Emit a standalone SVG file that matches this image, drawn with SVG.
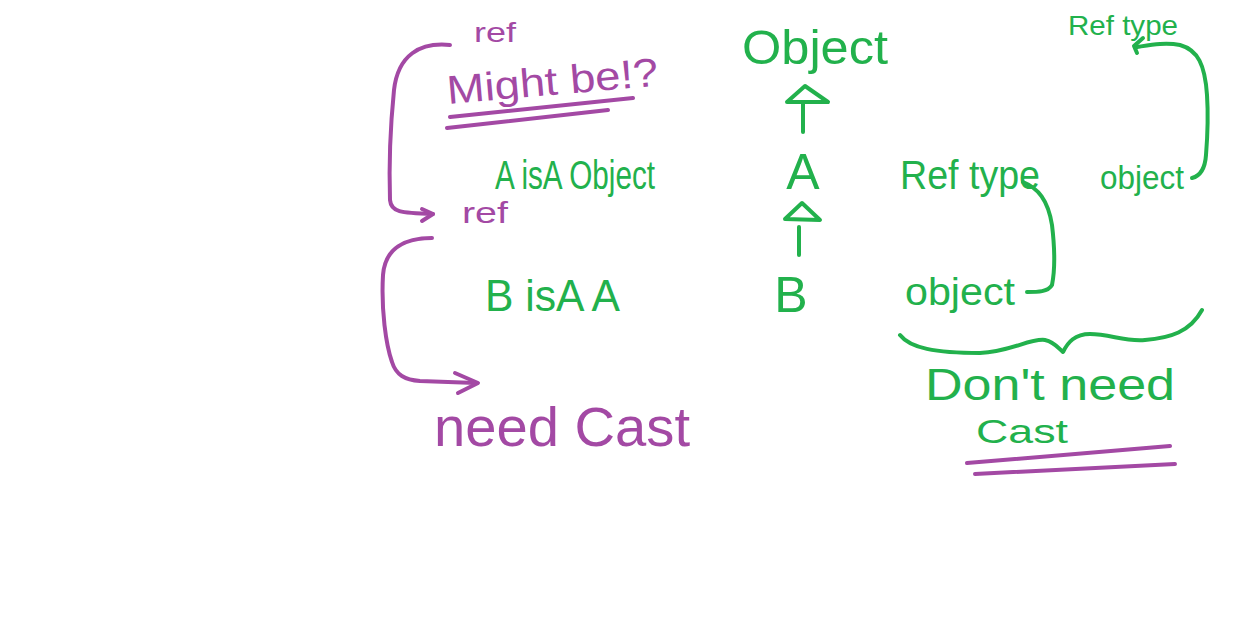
<svg xmlns="http://www.w3.org/2000/svg" width="1246" height="621" viewBox="0 0 1246 621">
<style>
.g{fill:#22b14c;font-family:"Liberation Sans","Noto Sans",sans-serif}
.p{fill:#a349a4;font-family:"Liberation Sans","Noto Sans",sans-serif}
.sg{fill:none;stroke:#22b14c;stroke-width:4;stroke-linecap:round;stroke-linejoin:round}
.sp{fill:none;stroke:#a349a4;stroke-width:4;stroke-linecap:round;stroke-linejoin:round}
</style>
<rect width="1246" height="621" fill="#ffffff"/>
<g id="ref-top"><text class="p" x="474" y="42" font-size="28" textLength="42" lengthAdjust="spacingAndGlyphs">ref</text></g>
<g id="might-be">
<text class="p" x="448" y="104" font-size="40" textLength="212" lengthAdjust="spacingAndGlyphs" transform="rotate(-5 448 104)">Might be!?</text>
</g>
<g id="a-isa-object"><text class="g" x="495" y="189" font-size="40" textLength="160" lengthAdjust="spacingAndGlyphs">A isA Object</text></g>
<g id="ref-mid"><text class="p" x="462" y="223" font-size="30" textLength="46" lengthAdjust="spacingAndGlyphs">ref</text></g>
<g id="b-isa-a"><text class="g" x="485" y="311" font-size="44" textLength="135" lengthAdjust="spacingAndGlyphs">B isA A</text></g>
<g id="need-cast"><text class="p" x="434" y="446" font-size="56" textLength="256" lengthAdjust="spacingAndGlyphs">need Cast</text></g>
<g id="object"><text class="g" x="742" y="64" font-size="48" textLength="146" lengthAdjust="spacingAndGlyphs">Object</text></g>
<g id="a"><text class="g" x="803" y="189" font-size="50" text-anchor="middle">A</text></g>
<g id="b"><text class="g" x="791" y="312" font-size="50" text-anchor="middle">B</text></g>
<g id="reftype-mid"><text class="g" x="900" y="189" font-size="40" textLength="140" lengthAdjust="spacingAndGlyphs">Ref type</text></g>
<g id="object-right"><text class="g" x="1100" y="189" font-size="34" textLength="84" lengthAdjust="spacingAndGlyphs">object</text></g>
<g id="reftype-top"><text class="g" x="1068" y="35" font-size="28" textLength="110" lengthAdjust="spacingAndGlyphs">Ref type</text></g>
<g id="object-low"><text class="g" x="905" y="305" font-size="38" textLength="110" lengthAdjust="spacingAndGlyphs">object</text></g>
<g id="dont-need"><text class="g" x="925" y="400" font-size="44" textLength="250" lengthAdjust="spacingAndGlyphs">Don't need</text></g>
<g id="cast"><text class="g" x="976" y="443" font-size="34" textLength="92" lengthAdjust="spacingAndGlyphs">Cast</text></g>
<g id="connectors">
<path class="sp" d="M450 117 L633 98"/>
<path class="sp" d="M447 128 L608 110"/>
<path class="sp" d="M450 45 C420 42 398 55 394 90 C390 130 389 170 390 200 C391 212 400 213 433 214"/>
<path class="sp" d="M422 209 L433 214 L422 221"/>
<path class="sp" d="M432 238 C405 238 385 248 383 275 C381 310 386 345 392 362 C396 375 405 380 420 381 L476 383"/>
<path class="sp" d="M455 373 L478 383 L458 393"/>
<path class="sg" d="M803 132 L803 103"/>
<path class="sg" d="M787 102 L805 86 L828 102 Z"/>
<path class="sg" d="M799 255 L799 227"/>
<path class="sg" d="M785 219 L802 203 L820 220 Z"/>
<path class="sg" d="M1192 178 C1200 176 1205 170 1206 155 C1208 130 1208 110 1207 95 C1205 65 1198 50 1180 45 C1165 42 1150 45 1137 47"/>
<path class="sg" d="M1143 38 L1134 46 L1137 53"/>
<path class="sg" d="M1023 182 C1038 188 1048 200 1052 225 C1055 250 1055 270 1052 285 C1048 292 1038 292 1027 292"/>
<path class="sg" d="M900 335 C910 348 935 353 980 353 C1010 352 1030 338 1045 340 C1055 342 1060 350 1063 352 C1068 342 1075 334 1090 334 C1110 334 1125 342 1145 340 C1170 338 1190 332 1202 310"/>
<path class="sp" d="M967 463 L1170 446"/>
<path class="sp" d="M975 474 L1175 464"/>
</g>
</svg>
